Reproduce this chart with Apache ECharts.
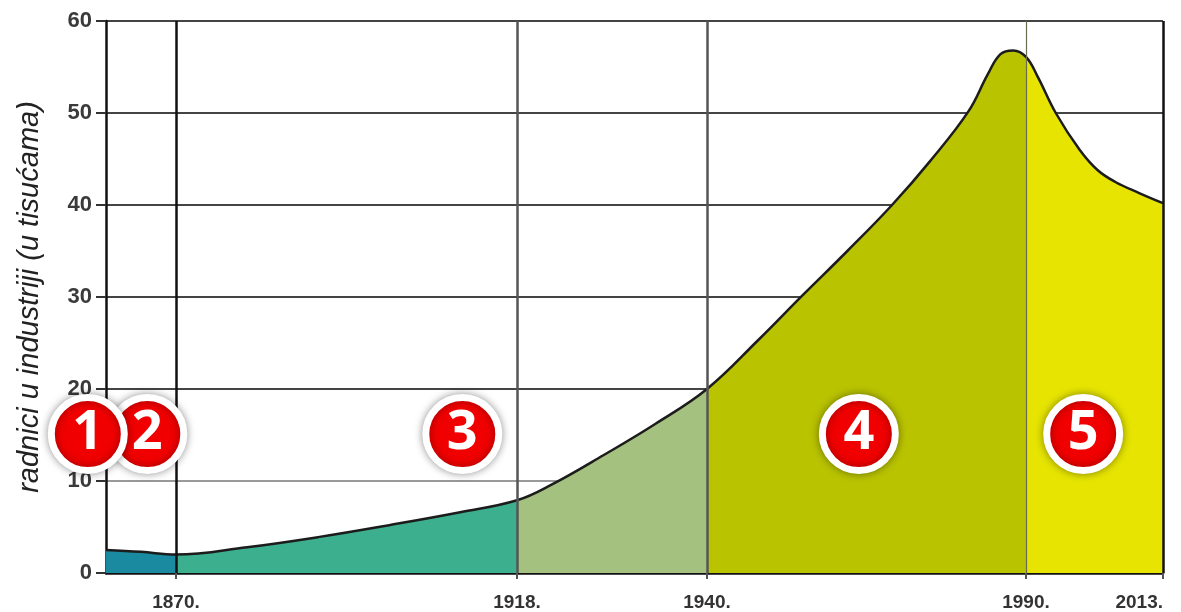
<!DOCTYPE html>
<html>
<head>
<meta charset="utf-8">
<script src="https://cdn.jsdelivr.net/npm/echarts@6/dist/echarts.min.js"></script>
<style>
  html, body { margin: 0; padding: 0; background: #fff; }
  #chart { width: 1181px; height: 612px; }
</style>
</head>
<body>
<div id="chart"></div>
<script>
// godine i broj radnika (u tisućama), očitano s grafa
const years = [1860, 1865, 1870, 1880, 1890, 1900, 1910, 1918, 1922, 1928, 1934, 1940,
  1948, 1955, 1962, 1969, 1975, 1981, 1984, 1986, 1988, 1990,
  1992, 1995, 1999, 2002, 2005, 2009, 2013]
const workers = [2.5, 2.3, 2.0, 2.8, 3.9, 5.2, 6.6, 7.9, 9.6, 12.8, 16.2, 20.0,
  25.3, 30.2, 35.0, 40.0, 44.8, 50.2, 54.2, 56.4, 56.8, 56.1,
  53.9, 50.0, 46.0, 43.8, 42.5, 41.3, 40.2]

// razdoblja (granice) i njihove boje
const periodYears = [1860, 1870, 1918, 1940, 1990, 2013]
const periodColors = ['#1a8aa0', '#3cb08e', '#a4c17f', '#b9c300', '#e6e400']
const tickYears = [1870, 1918, 1940, 1990, 2013]

// oznake razdoblja 1-5
const markLabels = ['1', '2', '3', '4', '5']
const markYears = [1857.4, 1865.9, 1910.3, 1963.8, 1999.6]
const markLevel = 15.1

// vremenska os nije linearna: svako razdoblje ima svoju širinu
const periodWidths = [70, 341, 190, 319, 137]
const periodPos = periodWidths.reduce((acc, w) => {
  acc.push(acc[acc.length - 1] + w)
  return acc
}, [0])

function yearToPos(yr) {
  let i = 0
  while (i < periodYears.length - 2 && yr > periodYears[i + 1]) i++
  const y0 = periodYears[i], y1 = periodYears[i + 1]
  const p0 = periodPos[i], p1 = periodPos[i + 1]
  return p0 + (yr - y0) / (y1 - y0) * (p1 - p0)
}

function posToYear(pos) {
  let i = 0
  while (i < periodPos.length - 2 && pos > periodPos[i + 1]) i++
  const y0 = periodYears[i], y1 = periodYears[i + 1]
  const p0 = periodPos[i], p1 = periodPos[i + 1]
  return y0 + (pos - p0) / (p1 - p0) * (y1 - y0)
}

const lineData = years.map((yr, i) => [yearToPos(yr), workers[i]])
const tickPos = tickYears.map(yearToPos)
const font = 'Liberation Sans'

const vLines = [
  { xAxis: yearToPos(1870), lineStyle: { color: '#111', width: 2.5, type: 'solid' } },
  { xAxis: yearToPos(1918), lineStyle: { color: '#555', width: 2.5, type: 'solid' } },
  { xAxis: yearToPos(1940), lineStyle: { color: '#555', width: 2.5, type: 'solid' } },
  { xAxis: yearToPos(1990), lineStyle: { color: '#6b6b50', width: 1.2, type: 'solid' } },
  { xAxis: yearToPos(2013), lineStyle: { color: '#111', width: 2.5, type: 'solid' } }
]

const chart = echarts.init(document.getElementById('chart'))
chart.setOption({
  animation: false,
  backgroundColor: '#fff',
  grid: { left: 106, right: 18, top: 21, bottom: 39, containLabel: false },
  visualMap: {
    show: false,
    type: 'piecewise',
    dimension: 0,
    seriesIndex: 0,
    pieces: periodColors.map((c, i) => ({ gte: periodPos[i], lt: periodPos[i + 1] + (i === periodColors.length - 1 ? 1 : 0), color: c }))
  },
  xAxis: {
    type: 'value',
    min: 0,
    max: periodPos[periodPos.length - 1],
    axisLine: { show: true, lineStyle: { color: '#111', width: 2.5 } },
    axisTick: {
      show: true,
      customValues: tickPos,
      length: 6,
      lineStyle: { color: '#555', width: 2 }
    },
    axisLabel: {
      customValues: tickPos,
      margin: 20,
      fontFamily: font,
      fontWeight: 'bold',
      fontSize: 19,
      color: '#333',
      alignMaxLabel: 'right',
      formatter: v => Math.round(posToYear(v)) + '.'
    },
    splitLine: { show: false }
  },
  yAxis: {
    type: 'value',
    min: 0,
    max: 60,
    interval: 10,
    name: 'radnici u industriji (u tisućama)',
    nameLocation: 'middle',
    nameGap: 62,
    nameTextStyle: {
      fontFamily: font,
      fontStyle: 'italic',
      fontSize: 29,
      color: '#222'
    },
    axisLine: { show: true, lineStyle: { color: '#111', width: 2.5 } },
    axisTick: { show: true, length: 10, lineStyle: { color: '#333', width: 2 } },
    axisLabel: {
      margin: 14,
      fontFamily: font,
      fontWeight: 'bold',
      fontSize: 22,
      color: '#3a3a3a'
    },
    splitLine: {
      show: true,
      lineStyle: {
        color: ['#444', '#999', '#444', '#444', '#444', '#444', '#444'],
        width: 2
      }
    }
  },
  series: [
    {
      type: 'line',
      data: lineData,
      smooth: 0.4,
      symbol: 'none',
      lineStyle: { color: '#1c1c1c', width: 2.5 },
      areaStyle: { opacity: 1 },
      markLine: {
        silent: true,
        symbol: 'none',
        label: { show: false },
        data: vLines
      },
      z: 2
    },
    {
      type: 'scatter',
      clip: false,
      z: 5,
      symbol: 'circle',
      symbolSize: 73,
      itemStyle: {
        color: '#f00000',
        opacity: 1,
        borderColor: '#fff',
        borderWidth: 7,
        shadowBlur: 8,
        shadowColor: 'rgba(0,0,0,0.35)'
      },
      label: {
        show: true,
        position: 'inside',
        fontFamily: 'Open Sans',
        fontWeight: 'bold',
        fontSize: 54,
        color: '#fff',
        formatter: p => markLabels[p.value[2]]
      },
      // obrnuti redoslijed kako bi oznaka 1 bila iznad oznake 2
      data: markYears.map((yr, i) => [yearToPos(yr), markLevel, i]).reverse()
    }
  ]
})
</script>
</body>
</html>
